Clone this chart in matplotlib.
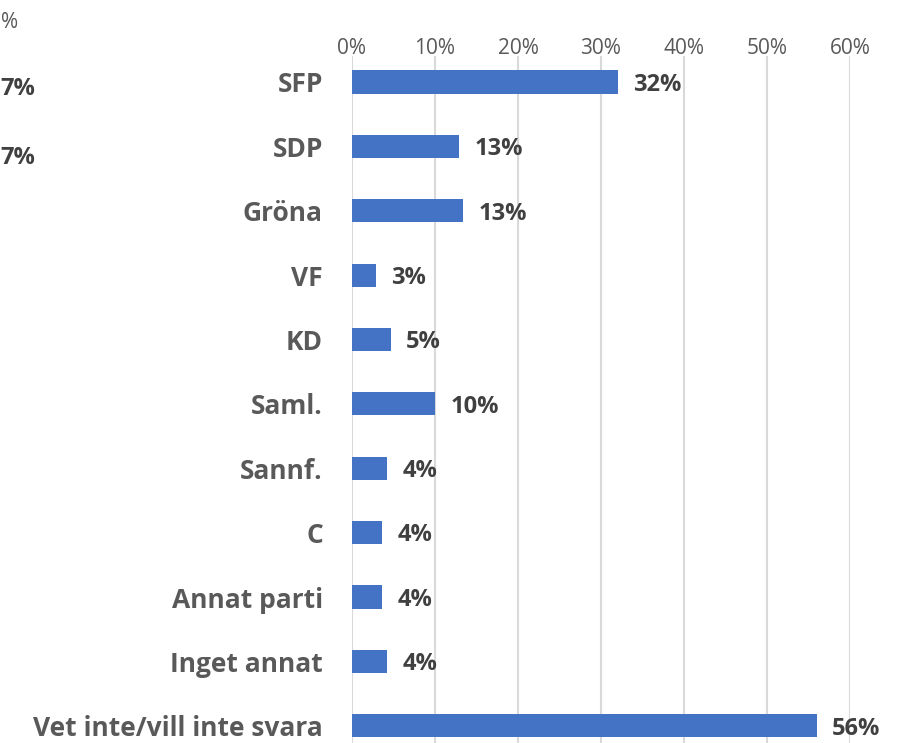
import matplotlib.pyplot as plt
from matplotlib.ticker import PercentFormatter

partier = ["SFP", "SDP", "Gröna", "VF", "KD", "Saml.", "Sannf.", "C",
           "Annat parti", "Inget annat", "Vet inte/vill inte svara"]
andel = [0.32, 0.129, 0.134, 0.029, 0.047, 0.10, 0.042, 0.036, 0.036, 0.042, 0.56]
etiketter = ["32%", "13%", "13%", "3%", "5%", "10%", "4%", "4%", "4%", "4%", "56%"]
xticks = [0, 0.1, 0.2, 0.3, 0.4, 0.5, 0.6]

plt.rcParams['font.family'] = ['Open Sans', 'DejaVu Sans']

W, H = 904, 743
fig = plt.figure(figsize=(W / 100, H / 100), dpi=100)

# axes placed in pixel terms: 0% at x=352, 60% at x=850, top at y=56
top_px, bot_px = 56.2, 758.0
ax = fig.add_axes([352 / W, 1 - bot_px / H, (850 - 352) / W, (bot_px - top_px) / H])

y = list(range(len(partier)))
ax.barh(y, andel, height=0.36, color="#4472C4", zorder=3)
ax.set_ylim(10.5, -0.4)
ax.set_xlim(0, 0.6)

ax.set_yticks(y)
ax.set_yticklabels(partier, fontsize=19, fontweight="bold", color="#595959")
ax.set_xticks(xticks)
ax.xaxis.set_major_formatter(PercentFormatter(1.0, decimals=0))
ax.xaxis.tick_top()
ax.tick_params(axis="x", length=0, pad=-2, labelsize=15, labelcolor="#595959")
ax.tick_params(axis="y", length=0, pad=21)
ax.grid(axis="x", color="#d9d9d9", linewidth=1.5, zorder=0)
for s in ax.spines.values():
    s.set_visible(False)

for yi, v, t in zip(y, andel, etiketter):
    ax.annotate(t, (v, yi), xytext=(11, -2), textcoords="offset points",
                va="center", ha="left", fontsize=17, fontweight="bold",
                color="#404040", annotation_clip=False)

# fragments of the neighbouring chart at the left edge
fig.text(1 / W, 1 - 23 / H, "%", ha="left", va="center", fontsize=15, color="#595959")
fig.text(0 / W, 1 - 89 / H, "7%", ha="left", va="center", fontsize=17,
         fontweight="bold", color="#404040")
fig.text(0 / W, 1 - 158 / H, "7%", ha="left", va="center", fontsize=17,
         fontweight="bold", color="#404040")

fig.savefig("out.png", dpi=100)
